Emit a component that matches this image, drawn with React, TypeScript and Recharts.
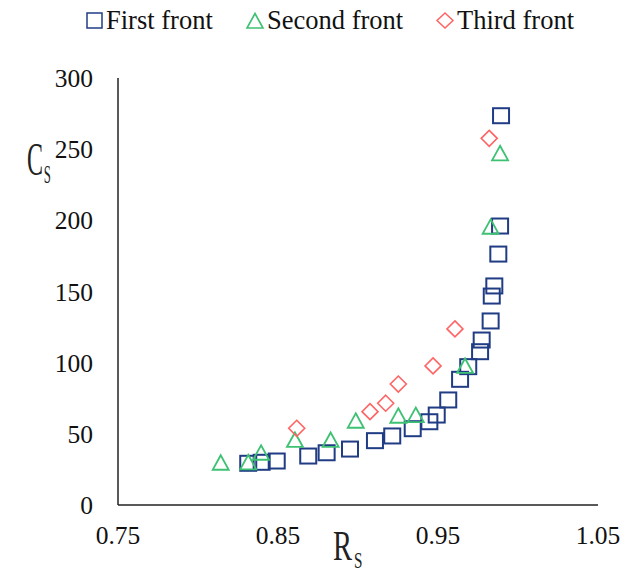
import React from 'react';
import { ScatterChart, Scatter, XAxis, YAxis, Legend, Label } from 'recharts';

// Data
const firstR = [0.8314, 0.8398, 0.8492, 0.8689, 0.8804, 0.895, 0.9106, 0.9214, 0.9342, 0.9446, 0.9492, 0.9564, 0.9638, 0.9689, 0.9763, 0.9773, 0.9829, 0.9836, 0.9852, 0.9877, 0.9888, 0.9894];
const firstC = [29.3, 30.0, 30.9, 34.4, 36.7, 39.3, 45.2, 48.5, 53.6, 58.5, 63.2, 73.8, 88.3, 97.2, 107.7, 115.9, 129.3, 146.8, 153.9, 176.3, 196, 273.5];

const secondR = [0.8142, 0.8314, 0.8394, 0.8606, 0.8829, 0.8986, 0.9252, 0.9361, 0.9669, 0.9829, 0.9888];
const secondC = [29.7, 30.0, 36.7, 45.7, 45.7, 59.2, 62.7, 63.2, 97.7, 195.5, 247.1];

const thirdR = [0.8617, 0.9075, 0.9173, 0.9252, 0.9469, 0.9606, 0.982];
const thirdC = [53.9, 65.6, 71.5, 85.0, 97.7, 123.7, 257.6];

const xTicks = [0.75, 0.85, 0.95, 1.05];
const yTicks = [0, 50, 100, 150, 200, 250, 300];
const seriesNames = ['First front', 'Second front', 'Third front'];

const COL1 = '#203C84';
const COL2 = '#3EC172';
const COL3 = '#FF6464';
const FONT = '"Liberation Serif", "Times New Roman", serif';

const zip = (xs: number[], ys: number[]) => xs.map((x, i) => ({ x, y: ys[i] }));
const firstData = zip(firstR, firstC);
const secondData = zip(secondR, secondC);
const thirdData = zip(thirdR, thirdC);

const Square = (p: any) => (
  <rect x={p.cx - 8} y={p.cy - 7.5} width={16} height={15} fill="none" stroke={COL1} strokeWidth={2} />
);
const Triangle = (p: any) => (
  <polygon
    points={`${p.cx},${p.cy - 7.5} ${p.cx + 8},${p.cy + 7} ${p.cx - 8},${p.cy + 7}`}
    fill="none"
    stroke={COL2}
    strokeWidth={1.8}
  />
);
const Diamond = (p: any) => (
  <polygon
    points={`${p.cx},${p.cy - 8} ${p.cx + 8},${p.cy} ${p.cx},${p.cy + 8} ${p.cx - 8},${p.cy}`}
    fill="none"
    stroke={COL3}
    strokeWidth={1.6}
  />
);

const LegendContent = () => (
  <svg width={632} height={40} style={{ display: 'block' }}>
    <rect x={87} y={13} width={15} height={15} fill="none" stroke={COL1} strokeWidth={1.5} />
    <text x={106} y={28.5} fontFamily={FONT} fontSize={26.5} fill="#111">{seriesNames[0]}</text>
    <polygon points="255,13.5 263,28 247,28" fill="none" stroke={COL2} strokeWidth={1.6} />
    <text x={267} y={28.5} fontFamily={FONT} fontSize={26.5} fill="#111">{seriesNames[1]}</text>
    <polygon points="445,13 453,20.5 445,28 437,20.5" fill="none" stroke={COL3} strokeWidth={1.5} />
    <text x={457} y={28.5} fontFamily={FONT} fontSize={26.5} fill="#111">{seriesNames[2]}</text>
  </svg>
);

const XLabel = (props: any) => {
  const vb = props.viewBox || { x: 0, y: 0, width: 0 };
  const x = vb.x + vb.width / 2 - 25;
  const y = vb.y + 55;
  return (
    <text transform={`translate(${x},${y}) scale(0.95,1.4)`} fontFamily={FONT} fontSize={30} fill="#222">
      R<tspan fontSize={16} dy={6} dx={2}>S</tspan>
    </text>
  );
};

const YLabel = (props: any) => {
  const vb = props.viewBox || { x: 0, y: 0 };
  const x = vb.x - 31;
  const y = vb.y + 97;
  return (
    <text transform={`translate(${x},${y}) scale(0.8,1.55)`} fontFamily={FONT} fontSize={30} fill="#222">
      C<tspan fontSize={16} dy={5} dx={1}>S</tspan>
    </text>
  );
};

const tickStyle = { fill: '#111', fontSize: 25.5, fontFamily: FONT };

export default function App() {
  return (
    <div style={{ position: 'absolute', left: 0, top: 0, width: 632, height: 575, background: '#fff' }}>
      <ScatterChart width={632} height={575} margin={{ top: 78, right: 34, bottom: 0, left: 58 }}>
        <XAxis
          type="number"
          dataKey="x"
          domain={[0.75, 1.05]}
          ticks={xTicks}
          allowDataOverflow
          tickLine={false}
          tickSize={0}
          tickMargin={21}
          height={70}
          axisLine={{ stroke: '#222', strokeWidth: 1.5 }}
          tick={tickStyle}
          tickFormatter={(v: number) => v.toFixed(2)}
        >
          <Label content={XLabel} />
        </XAxis>
        <YAxis
          type="number"
          dataKey="y"
          domain={[0, 300]}
          ticks={yTicks}
          allowDataOverflow
          tickLine={false}
          tickSize={0}
          tickMargin={25}
          width={60}
          axisLine={{ stroke: '#222', strokeWidth: 1.5 }}
          tick={tickStyle}
        >
          <Label content={YLabel} />
        </YAxis>
        <Legend
          layout="horizontal"
          align="center"
          verticalAlign="middle"
          wrapperStyle={{ top: 0, left: 0, width: 632, height: 40 }}
          content={LegendContent}
        />
        <Scatter name={seriesNames[0]} data={firstData} shape={Square} isAnimationActive={false} />
        <Scatter name={seriesNames[1]} data={secondData} shape={Triangle} isAnimationActive={false} />
        <Scatter name={seriesNames[2]} data={thirdData} shape={Diamond} isAnimationActive={false} />
      </ScatterChart>
    </div>
  );
}
